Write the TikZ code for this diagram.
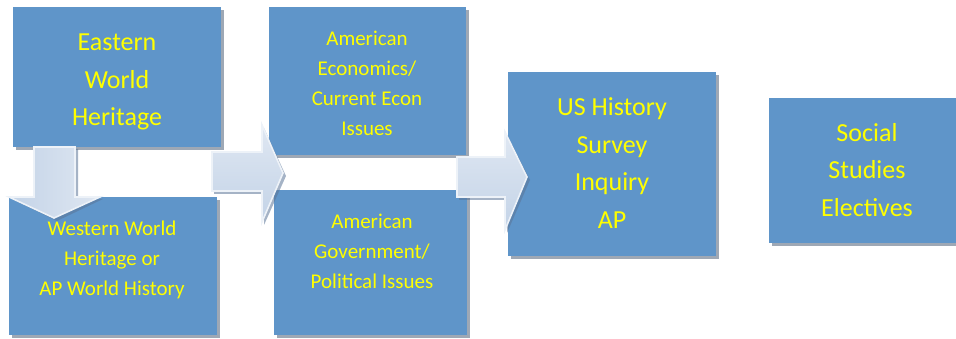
\documentclass[tikz,border=0pt]{standalone}
\usepackage{fontspec}
\setmainfont{Carlito}
\usetikzlibrary{shadows}
\definecolor{boxblue}{HTML}{5F95C9}
\definecolor{shadowgray}{HTML}{9EA8B5}
\definecolor{arrowlight}{HTML}{DFE7F2}
\definecolor{arrowdark}{HTML}{C3D3E7}
\definecolor{arrowedge}{HTML}{EDF2F8}
\definecolor{arrowshade}{HTML}{5B7597}
\definecolor{txtyellow}{HTML}{FFFF00}
\begin{document}
\begin{tikzpicture}[x=1pt,y=-1pt,
  box/.style={rectangle, fill=boxblue, inner sep=0pt, anchor=north west,
    drop shadow={shadow xshift=3pt, shadow yshift=-3pt, fill=shadowgray, opacity=1}},
  bigtxt/.style={text=txtyellow, align=center, inner sep=0pt, font={\fontsize{26}{37.5}\selectfont}},
  smalltxt/.style={text=txtyellow, align=center, inner sep=0pt, font={\fontsize{21}{30}\selectfont}},
  arrowshadow/.style={fill=arrowshade, opacity=0.55},
  blockarrowh/.style={draw=arrowedge, line width=1.6pt, line join=miter, top color=arrowlight, bottom color=arrowdark},
  blockarrowv/.style={draw=arrowedge, line width=1.6pt, line join=miter, left color=arrowdark, right color=arrowlight}]
\useasboundingbox (0,0) rectangle (956,339);
% boxes
\node[box, minimum width=208pt, minimum height=140pt] (b1) at (13,7) {};
\node[box, minimum width=208pt, minimum height=138pt] (b2) at (9,197) {};
\node[box, minimum width=197pt, minimum height=148pt] (b3) at (269,7) {};
\node[box, minimum width=193pt, minimum height=145pt] (b4) at (274,190) {};
\node[box, minimum width=208pt, minimum height=184pt] (b5) at (508,72) {};
\node[box, minimum width=190pt, minimum height=145pt] (b6) at (769,98) {};
% arrow 1: Eastern -> Western (down)
\fill[arrowshadow] (36,149) -- (78,149) -- (78,199) -- (103,199) -- (57,221) -- (12,199) -- (36,199) -- cycle;
\draw[blockarrowv] (34,147) -- (75,147) -- (75,197) -- (100,197) -- (54,218) -- (9,197) -- (34,197) -- cycle;
% arrow 2: to American courses
\fill[arrowshadow] (214,155) -- (264,155) -- (264,128) -- (286,176) -- (264,225) -- (264,194) -- (214,194) -- cycle;
\draw[blockarrowh] (212,152) -- (262,152) -- (262,125) -- (283,173) -- (262,222) -- (262,191) -- (212,191) -- cycle;
% arrow 3: to US History
\fill[arrowshadow] (459,160) -- (507,160) -- (507,135) -- (530,180) -- (507,233) -- (507,200) -- (459,200) -- cycle;
\draw[blockarrowh] (457,157) -- (505,157) -- (505,132) -- (527,177) -- (505,230) -- (505,197) -- (457,197) -- cycle;
% texts
\node[bigtxt] (t1) at (117,82) {Eastern\\World\\Heritage};
\node[smalltxt] (t2) at (112,260) {Western World\\Heritage or\\AP World History};
\node[smalltxt] (t3) at (367,83) {American\\Economics/\\Current Econ\\Issues};
\node[smalltxt] (t4) at (372,251) {American\\Government/\\Political Issues};
\node[bigtxt] (t5) at (612,163) {US History\\Survey\\Inquiry\\AP};
\node[bigtxt] (t6) at (867,170) {Social\\Studies\\Electives};
\end{tikzpicture}
\end{document}
